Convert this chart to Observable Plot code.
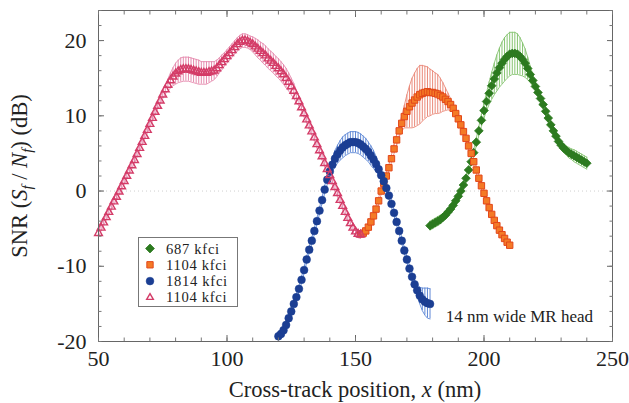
<!DOCTYPE html>
<html><head><meta charset="utf-8">
<script src="https://cdn.jsdelivr.net/npm/d3@7"></script>
<script src="https://cdn.jsdelivr.net/npm/@observablehq/plot@0.6"></script>
<style>
body{margin:0;background:#fff;}
#chart svg{display:block;}
</style>
</head><body><div id="chart"></div>
<script>
// ---------- data ----------
const legendLabels = ["687 kfci", "1104 kfci", "1814 kfci", "1104 kfci"];
const xTicks = [50, 100, 150, 200, 250];
const yTicks = [-20, -10, 0, 10, 20];
const annotation = "14 nm wide MR head";

// pink (open triangles), 1104 kfci
const pinkX = [50,51,52,53,54,55,56,57,58,59,60,61,62,63,64,65,66,67,68,69,70,71,72,73,74,75,76,77,78,79,80,81,82,83,84,85,86,87,88,89,90,91,92,93,94,95,96,97,98,99,100,101,102,103,104,105,106,107,108,109,110,111,112,113,114,115,116,117,118,119,120,121,122,123,124,125,126,127,128,129,130,131,132,133,134,135,136,137,138,139,140,141,142,143,144,145,146,147,148,149,150,151,152];
const pinkY = [-5.6,-4.9,-4.2,-3.5,-2.8,-2.1,-1.4,-0.8,-0.1,0.6,1.3,2.0,2.7,3.4,4.1,4.9,5.7,6.5,7.3,8.1,8.9,9.7,10.5,11.3,12.0,12.8,13.5,14.1,14.7,15.2,15.6,15.9,16.1,16.2,16.2,16.2,16.1,16.0,15.9,15.8,15.7,15.7,15.7,15.8,15.9,16.0,16.3,16.7,17.1,17.5,17.9,18.3,18.7,19.1,19.5,19.8,20.0,20.0,19.9,19.7,19.5,19.2,18.9,18.6,18.3,18.0,17.6,17.3,17.0,16.6,16.3,15.9,15.5,15.0,14.5,13.9,13.3,12.6,11.9,11.1,10.3,9.5,8.7,7.9,7.1,6.2,5.4,4.6,3.7,2.9,2.1,1.3,0.5,-0.3,-1.2,-2.0,-2.8,-3.6,-4.3,-4.9,-5.4,-5.7,-5.8];
const pinkErr = [0.4,0.4,0.4,0.4,0.4,0.4,0.4,0.4,0.4,0.4,0.4,0.4,0.4,0.4,0.4,0.4,0.4,0.4,0.4,0.4,0.4,0.4,0.4,0.4,0.4,0.5,0.6,0.8,1.0,1.2,1.4,1.5,1.6,1.6,1.6,1.6,1.6,1.6,1.6,1.6,1.5,1.5,1.5,1.4,1.3,1.2,1.1,1.0,1.0,0.9,0.9,0.9,0.9,0.9,0.9,0.9,0.9,0.9,0.9,0.9,1.0,1.1,1.2,1.2,1.3,1.3,1.3,1.3,1.3,1.3,1.3,1.3,1.3,1.3,1.2,1.1,1.0,0.8,0.6,0.5,0.5,0.5,0.5,0.5,0.5,0.5,0.5,0.5,0.5,0.5,0.5,0.5,0.5,0.5,0.5,0.5,0.5,0.5,0.5,0.5,0.5,0.5,0.5];

// blue (filled circles), 1814 kfci
const blueX = [120,121,122,123,124,125,126,127,128,129,130,131,132,133,134,135,136,137,138,139,140,141,142,143,144,145,146,147,148,149,150,151,152,153,154,155,156,157,158,159,160,161,162,163,164,165,166,167,168,169,170,171,172,173,174,175,176,177,178,179];
const blueY = [-19.3,-19.0,-18.5,-17.8,-16.9,-16.0,-15.0,-14.1,-13.0,-11.8,-10.5,-9.1,-7.8,-6.6,-5.3,-4.0,-2.6,-1.2,0.2,1.5,2.6,3.5,4.3,4.9,5.4,5.8,6.1,6.3,6.5,6.5,6.5,6.4,6.2,5.9,5.6,5.2,4.7,4.2,3.6,2.9,2.1,1.3,0.4,-0.6,-1.7,-2.9,-4.1,-5.3,-6.6,-7.9,-9.1,-10.3,-11.4,-12.4,-13.2,-13.9,-14.4,-14.7,-14.9,-15.0];
const blueErr = [0.4,0.4,0.4,0.4,0.4,0.4,0.4,0.4,0.4,0.4,0.4,0.4,0.4,0.4,0.4,0.4,0.4,0.4,0.5,0.6,0.7,0.9,1.1,1.2,1.3,1.4,1.4,1.4,1.4,1.4,1.4,1.4,1.4,1.4,1.4,1.3,1.3,1.2,1.0,0.8,0.6,0.5,0.4,0.4,0.4,0.4,0.4,0.4,0.4,0.4,0.4,0.4,0.5,0.6,0.8,1.1,1.5,1.8,2.0,2.0];

// orange (squares), 1104 kfci
const orangeX = [152,153,154,155,156,157,158,159,160,161,162,163,164,165,166,167,168,169,170,171,172,173,174,175,176,177,178,179,180,181,182,183,184,185,186,187,188,189,190,191,192,193,194,195,196,197,198,199,200,201,202,203,204,205,206,207,208,209,210];
const orangeY = [-5.7,-5.6,-5.3,-4.8,-4.1,-3.3,-2.4,-1.3,0.0,1.0,2.0,3.1,4.3,5.6,6.8,8.0,9.0,9.9,10.6,11.2,11.7,12.1,12.5,12.8,13.0,13.1,13.2,13.1,13.1,13.0,12.9,12.7,12.5,12.2,11.9,11.5,11.0,10.3,9.6,8.8,7.9,7.0,6.0,5.0,3.9,2.8,1.7,0.7,-0.3,-1.3,-2.2,-3.1,-3.9,-4.6,-5.2,-5.8,-6.3,-6.8,-7.2];
const orangeErr = [0.4,0.4,0.4,0.4,0.4,0.4,0.4,0.4,0.4,0.4,0.4,0.4,0.5,0.6,0.7,0.8,1.0,1.5,2.2,2.8,3.3,3.6,3.8,3.9,3.7,3.5,3.3,3.1,2.9,2.7,2.6,2.3,1.9,1.5,1.1,0.8,0.6,0.5,0.4,0.4,0.4,0.4,0.4,0.4,0.4,0.4,0.4,0.4,0.4,0.4,0.4,0.4,0.4,0.4,0.4,0.4,0.4,0.4,0.4];

// green (diamonds), 687 kfci
const greenX = [179,180,181,182,183,184,185,186,187,188,189,190,191,192,193,194,195,196,197,198,199,200,201,202,203,204,205,206,207,208,209,210,211,212,213,214,215,216,217,218,219,220,221,222,223,224,225,226,227,228,229,230,231,232,233,234,235,236,237,238,239,240];
const greenY = [-4.6,-4.4,-4.2,-4.0,-3.8,-3.5,-3.2,-2.8,-2.4,-1.9,-1.3,-0.7,0.0,0.8,1.7,2.8,3.9,5.1,6.5,8.0,9.4,10.7,11.9,13.0,14.0,14.9,15.7,16.4,17.0,17.5,17.9,18.2,18.3,18.3,18.2,17.9,17.5,17.0,16.3,15.5,14.7,13.9,13.1,12.3,11.5,10.6,9.7,8.8,8.0,7.3,6.6,6.1,5.7,5.4,5.1,4.9,4.7,4.5,4.3,4.1,3.9,3.7];
const greenErr = [0.6,0.6,0.6,0.6,0.6,0.5,0.5,0.4,0.4,0.4,0.4,0.4,0.4,0.4,0.4,0.4,0.4,0.4,0.5,0.6,0.8,1.0,1.2,1.5,1.8,2.1,2.4,2.6,2.8,2.9,2.9,2.9,2.8,2.8,2.7,2.5,2.2,1.9,1.5,1.1,0.8,0.6,0.5,0.5,0.5,0.5,0.5,0.5,0.5,0.5,0.5,0.5,0.6,0.6,0.7,0.7,0.8,0.8,0.8,0.8,0.8,0.8];

// ---------- build tables ----------
const mk = (xs, ys, es) => xs.map((x, i) => ({x, y: ys[i], e: es[i]}));
const pink = mk(pinkX, pinkY, pinkErr);
const blue = mk(blueX, blueY, blueErr);
const orange = mk(orangeX, orangeY, orangeErr);
const green = mk(greenX, greenY, greenErr);

const C = {
  green: "#2c7a1f", greenErr: "#86c471",
  orangeFill: "#f47a26", orangeStroke: "#e2461a", orangeErr: "#ea8a7a",
  blue: "#1b3e93", blueErr: "#5f88d6",
  pink: "#d43c68", pinkErr: "#e58aae"
};

const font = "'Liberation Serif', 'Times New Roman', serif";
const errBar = (data, color) => [
  Plot.ruleX(data, {x: "x", y1: d => d.y - d.e, y2: d => d.y + d.e, stroke: color, strokeWidth: 1}),
  Plot.line(data, {x: "x", y: d => d.y + d.e, stroke: color, strokeWidth: 0.9, curve: "linear"}),
  Plot.line(data, {x: "x", y: d => d.y - d.e, stroke: color, strokeWidth: 0.9, curve: "linear"})
];

const plot = Plot.plot({
  width: 629, height: 403,
  marginLeft: 98, marginRight: 17, marginTop: 10, marginBottom: 62,
  style: {fontFamily: font, fontSize: "22px", color: "#222", background: "transparent"},
  x: {domain: [50, 250]},
  y: {domain: [-20, 24]},
  marks: [
    Plot.ruleY([0], {stroke: "#cfcfcf", strokeDasharray: "1,3", strokeWidth: 1}),
    errBar(green, C.greenErr),
    errBar(orange, C.orangeErr),
    errBar(blue, C.blueErr),
    errBar(pink, C.pinkErr),
    Plot.dot(green, {x: "x", y: "y", symbol: "diamond2", r: 3.9, fill: C.green, stroke: C.green, strokeWidth: 0.8}),
    Plot.dot(orange, {x: "x", y: "y", symbol: "square", r: 3.6, fill: C.orangeFill, stroke: C.orangeStroke, strokeWidth: 1}),
    Plot.dot(blue, {x: "x", y: "y", symbol: "circle", r: 3.9, fill: C.blue, stroke: C.blue, strokeWidth: 0.5}),
    Plot.dot(pink, {x: "x", y: "y", symbol: "triangle", r: 2.9, fill: "none", stroke: C.pink, strokeWidth: 1.4}),
    Plot.frame({stroke: "#666", strokeWidth: 1}),
    // tick labels
    Plot.axisX({ticks: xTicks, tickSize: 0, tickPadding: 9, tickFormat: d => String(d), label: null, fontSize: 22}),
    Plot.axisY({ticks: yTicks, tickSize: 0, tickPadding: 12, tickFormat: d => String(d), label: null, fontSize: 22}),
    // inward ticks (major)
    Plot.axisX({anchor: "bottom", ticks: xTicks, tickSize: -6, tickFormat: () => "", label: null, stroke: "#666"}),
    Plot.axisX({anchor: "top", ticks: xTicks, tickSize: -6, tickFormat: () => "", label: null, stroke: "#666"}),
    Plot.axisY({anchor: "left", ticks: yTicks, tickSize: -6, tickFormat: () => "", label: null, stroke: "#666"}),
    Plot.axisY({anchor: "right", ticks: yTicks, tickSize: -6, tickFormat: () => "", label: null, stroke: "#666"}),
    // inward ticks (minor)
    Plot.axisX({anchor: "bottom", ticks: d3.range(50, 251, 10), tickSize: -3.5, tickFormat: () => "", label: null, stroke: "#777"}),
    Plot.axisX({anchor: "top", ticks: d3.range(50, 251, 10), tickSize: -3.5, tickFormat: () => "", label: null, stroke: "#777"}),
    Plot.axisY({anchor: "left", ticks: d3.range(-20, 25, 2), tickSize: -3.5, tickFormat: () => "", label: null, stroke: "#777"}),
    Plot.axisY({anchor: "right", ticks: d3.range(-20, 25, 2), tickSize: -3.5, tickFormat: () => "", label: null, stroke: "#777"})
  ]
});

const svg = d3.select(plot);
svg.style("font-family", font);

// x-axis label
const xl = svg.append("text").attr("x", 355).attr("y", 397).attr("text-anchor", "middle")
  .attr("font-size", 22.5).attr("fill", "#222");
xl.append("tspan").text("Cross-track position, ");
xl.append("tspan").attr("font-style", "italic").text("x");
xl.append("tspan").text(" (nm)");

// y-axis label with subscripts
const yl = svg.append("text").attr("transform", "translate(27,176) rotate(-90)")
  .attr("text-anchor", "middle").attr("font-size", 22.5).attr("fill", "#222");
yl.append("tspan").text("SNR (");
yl.append("tspan").attr("font-style", "italic").text("S");
yl.append("tspan").attr("font-style", "italic").attr("font-size", 15).attr("dy", 5).text("f");
yl.append("tspan").attr("dy", -5).text(" / ");
yl.append("tspan").attr("font-style", "italic").text("N");
yl.append("tspan").attr("font-style", "italic").attr("font-size", 15).attr("dy", 5).text("f");
yl.append("tspan").attr("dy", -5).text(") (dB)");

// legend
const lg = svg.append("g");
lg.append("rect").attr("x", 138.5).attr("y", 237.5).attr("width", 99).attr("height", 69)
  .attr("fill", "#fff").attr("stroke", "#777").attr("stroke-width", 1);
const legendSym = [
  {sym: d3.symbolDiamond2, size: 50, fill: C.green, stroke: C.green, sw: 0.8},
  {sym: d3.symbolSquare, size: 40, fill: C.orangeFill, stroke: C.orangeStroke, sw: 1},
  {sym: d3.symbolCircle, size: 48, fill: C.blue, stroke: C.blue, sw: 0.5},
  {sym: d3.symbolTriangle2, size: 32, fill: "none", stroke: C.pink, sw: 1.4}
];
legendLabels.forEach((lab, i) => {
  const cy = 248.5 + i * 16.3;
  const s = legendSym[i];
  lg.append("path").attr("d", d3.symbol(s.sym, s.size)()).attr("transform", `translate(150,${cy})`)
    .attr("fill", s.fill).attr("stroke", s.stroke).attr("stroke-width", s.sw);
  lg.append("text").attr("x", 166).attr("y", cy + 5).attr("text-anchor", "start")
    .attr("font-size", 14.6).attr("letter-spacing", 0.7).attr("fill", "#222").text(lab);
});

// annotation
svg.append("text").attr("x", 593).attr("y", 322).attr("text-anchor", "end")
  .attr("font-size", 17).attr("fill", "#222").text(annotation);

document.getElementById("chart").appendChild(plot);
</script>
</body></html>
